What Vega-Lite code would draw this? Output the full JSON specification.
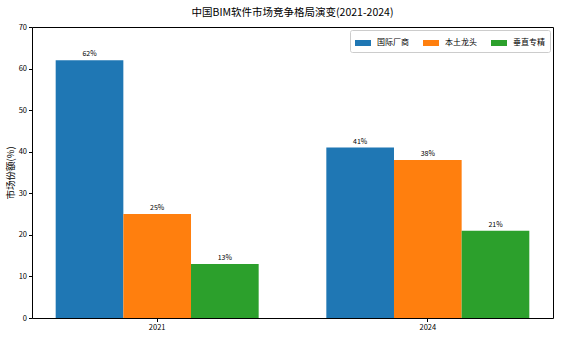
{
  "$schema": "https://vega.github.io/schema/vega-lite/v6.json",
  "width": 521,
  "height": 291,
  "autosize": {"type": "none"},
  "padding": {"left": 32, "top": 27, "right": 17, "bottom": 25},
  "background": "white",
  "title": {"text": "中国BIM软件市场竞争格局演变(2021-2024)", "font": "Noto Sans CJK SC", "fontSize": 10.5, "fontWeight": "normal", "color": "black", "offset": 5},
  "config": {
    "view": {"stroke": "black", "strokeWidth": 1},
    "font": "Noto Sans CJK SC",
    "axis": {"grid": false, "domain": false, "tickColor": "black", "tickSize": 3.5, "labelColor": "black", "labelFont": "Noto Sans CJK SC", "labelFontSize": 7.5, "titleFont": "Noto Sans CJK SC", "titleFontWeight": "normal", "titleColor": "black"}
  },
  "data": {"values": [
    {"year": "2021", "group": "国际厂商", "share": 62, "label": "62%"},
    {"year": "2021", "group": "本土龙头", "share": 25, "label": "25%"},
    {"year": "2021", "group": "垂直专精", "share": 13, "label": "13%"},
    {"year": "2024", "group": "国际厂商", "share": 41, "label": "41%"},
    {"year": "2024", "group": "本土龙头", "share": 38, "label": "38%"},
    {"year": "2024", "group": "垂直专精", "share": 21, "label": "21%"}
  ]},
  "encoding": {
    "x": {"field": "year", "type": "nominal", "scale": {"paddingInner": 0.25, "paddingOuter": 0.0875}, "axis": {"title": null, "labelAngle": 0, "labelPadding": 2}},
    "xOffset": {"field": "group", "type": "nominal", "sort": ["国际厂商", "本土龙头", "垂直专精"], "scale": {"paddingInner": 0, "paddingOuter": 0}},
    "y": {"field": "share", "type": "quantitative", "scale": {"domain": [0, 70], "nice": false}, "axis": {"title": "市场份额(%)", "titleFontSize": 9.5, "values": [0, 10, 20, 30, 40, 50, 60, 70], "labelPadding": 2, "titlePadding": 3}}
  },
  "layer": [
    {
      "mark": {"type": "bar"},
      "encoding": {
        "color": {"field": "group", "type": "nominal", "sort": ["国际厂商", "本土龙头", "垂直专精"],
          "scale": {"domain": ["国际厂商", "本土龙头", "垂直专精"], "range": ["#1f77b4", "#ff7f0e", "#2ca02c"]},
          "legend": {"title": null, "orient": "top-right", "direction": "horizontal", "columns": 3, "offset": 3,
            "symbolType": "M-1,-0.375H1V0.375H-1Z", "symbolSize": 256, "symbolStrokeWidth": 0, "labelFontSize": 8, "labelFont": "Noto Sans CJK SC", "labelColor": "black", "labelOffset": 6,
            "columnPadding": 14, "padding": 5, "strokeColor": "#cccccc", "fillColor": "white", "cornerRadius": 2}
        }
      }
    },
    {
      "mark": {"type": "text", "baseline": "bottom", "dy": -3, "fontSize": 7, "color": "black"},
      "encoding": {"text": {"field": "label", "type": "nominal"}}
    }
  ]
}
